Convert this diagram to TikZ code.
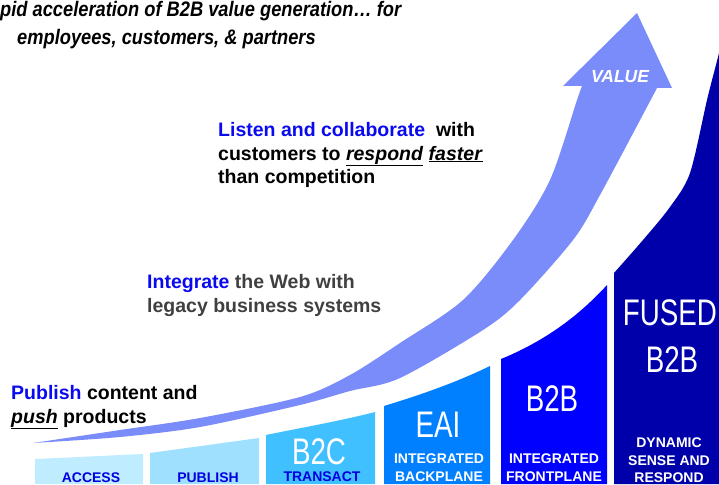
\documentclass[tikz,border=0pt]{standalone}
\usepackage{fontspec}
\setmainfont{Liberation Sans}
\newfontfamily\thinfont{Liberation Sans}[FakeStretch=0.75]
\newfontfamily\titlefont{Liberation Sans}[FakeStretch=0.87]
\definecolor{accessc}{RGB}{192,236,255}
\definecolor{publishc}{RGB}{160,224,255}
\definecolor{btwocc}{RGB}{64,192,255}
\definecolor{eaic}{RGB}{0,128,255}
\definecolor{btwobc}{RGB}{0,0,255}
\definecolor{fusedc}{RGB}{0,0,170}
\definecolor{bandc}{RGB}{122,139,250}
\definecolor{hiblue}{RGB}{10,10,240}
\definecolor{lblblue}{RGB}{0,0,225}
\definecolor{darkgrey}{RGB}{64,64,64}
\tikzset{
  bigtxt/.style={font=\thinfont\fontsize{37}{37}\selectfont, text=white, anchor=base, inner sep=0pt},
  barlbl/.style={font=\bfseries\fontsize{14}{14}\selectfont, anchor=base, inner sep=0pt},
  msg/.style={font=\bfseries\fontsize{19.5}{23}\selectfont, anchor=base west, inner sep=0pt},
  ttl/.style={font=\titlefont\bfseries\itshape\fontsize{21}{24}\selectfont, anchor=base west, inner sep=0pt},
}
\begin{document}
\begin{tikzpicture}[x=1pt,y=-1pt]
\useasboundingbox (0,0) rectangle (719,484);
\clip (0,0) rectangle (719,484);
% bars
\fill[accessc] (35,484) -- (35,459) -- (143,454) -- (143,484) -- cycle;
\fill[publishc] (150,484) -- (150,453) -- (259,438) -- (259,484) -- cycle;
\fill[btwocc] (266,484) -- (266,435) .. controls (300,428) and (340,421) .. (375,412) -- (375,484) -- cycle;
\fill[eaic] (384,484) -- (384,406) .. controls (420,395) and (455,383) .. (490,366) -- (490,484) -- cycle;
\fill[btwobc] (501,484) -- (501,359) .. controls (540,343) and (575,320) .. (607,285) -- (607,484) -- cycle;
\fill[fusedc] (614,484) -- plot[smooth] coordinates {(614,273) (643,240) (670,207) (690,173) (707,100) (718,57) (722,40)} -- (725,40) -- (725,484) -- cycle;
% value arrow
\fill[bandc] plot[smooth] coordinates {(33,443) (120,430) (200,418) (300,397) (350,375) (400,343) (463,300) (513,240) (550,180) (577,100) (582,86)}
  -- (563,86) -- (637,13) -- (672,88) -- (657,88)
  -- plot[smooth] coordinates {(657,88) (600,195) (573,240) (520,300) (483,330) (400,378) (350,391) (300,405) (200,427) (120,437) (33,443)} -- cycle;
\node[font=\bfseries\itshape\fontsize{17.5}{17.5}\selectfont, text=white, anchor=base, inner sep=0pt] (value) at (620,83) {VALUE};
% title
\node[ttl] (title1) at (0,17) {pid acceleration of B2B value generation… for};
\node[ttl] (title2) at (17,45) {employees, customers, \& partners};
% messages
\node[msg] (listen1) at (218,136) {\textcolor{hiblue}{Listen and collaborate}\ \ with};
\node[msg] (listen2) at (218,160) {customers to \underline{\textit{respond}} \underline{\textit{faster}}};
\node[msg] (listen3) at (218,183) {than competition};
\node[msg, text=darkgrey] (integ1) at (147,288) {\textcolor{hiblue}{Integrate} the Web with};
\node[msg, text=darkgrey] (integ2) at (147,312) {legacy business systems};
\node[msg] (publ1) at (11,399) {\textcolor{hiblue}{Publish} content and};
\node[msg] (publ2) at (11,423) {\underline{\textit{push}} products};
% big labels
\node[bigtxt] (b2c) at (319,464) {B2C};
\node[bigtxt] (eai) at (438,437) {EAI};
\node[bigtxt] (b2b) at (552,411) {B2B};
\node[bigtxt] (fused) at (670,325) {FUSED};
\node[bigtxt] (fusedb) at (672,372) {B2B};
% bar labels
\node[barlbl, text=lblblue] (access) at (91,482) {ACCESS};
\node[barlbl, text=lblblue] (publish) at (208,482) {PUBLISH};
\node[barlbl, text=lblblue] (transact) at (322,481) {TRANSACT};
\node[barlbl, text=white] (ib1) at (439,463) {INTEGRATED};
\node[barlbl, text=white] (ib2) at (439,481) {BACKPLANE};
\node[barlbl, text=white] (if1) at (554,463) {INTEGRATED};
\node[barlbl, text=white] (if2) at (554,481) {FRONTPLANE};
\node[barlbl, text=white] (dy1) at (669,447) {DYNAMIC};
\node[barlbl, text=white] (dy2) at (669,465) {SENSE AND};
\node[barlbl, text=white] (dy3) at (669,482) {RESPOND};
\end{tikzpicture}
\end{document}
